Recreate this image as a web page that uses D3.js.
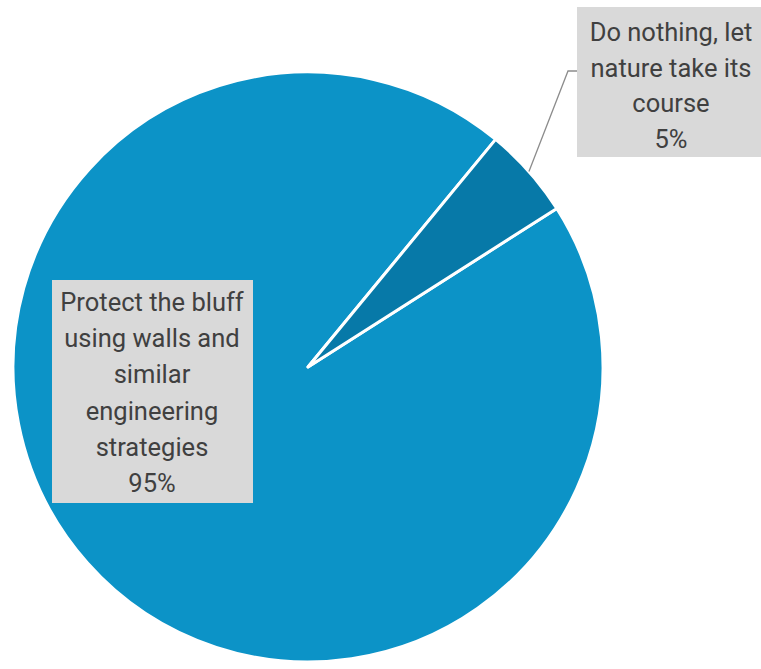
<!DOCTYPE html>
<html>
<head>
<meta charset="utf-8">
<script src="https://cdn.jsdelivr.net/npm/d3@7"></script>
<style>
  html, body { margin: 0; padding: 0; background: #ffffff; }
  svg { display: block; }
</style>
</head>
<body>
<svg id="chart" width="761" height="669"></svg>
<script>
// Survey responses: preferred approach to the bluff
const categories = [
  "Protect the bluff using walls and similar engineering strategies",
  "Do nothing, let nature take its course"
];
const values = [95, 5];
const percentLabels = ["95%", "5%"];
// Wrapped label lines for each slice
const labelLines = [
  ["Protect the bluff", "using walls and", "similar", "engineering", "strategies"],
  ["Do nothing, let", "nature take its", "course"]
];
const colors = ["#0C93C7", "#0779A8"];

const svg = d3.select("#chart");
const cx = 308, cy = 367, radius = 295;
const deg = Math.PI / 180;
const start = 57.5 * deg;

const pie = d3.pie().sort(null).startAngle(start).endAngle(start + 2 * Math.PI);
const arcs = pie(values);

const arc = d3.arc().innerRadius(0).outerRadius(radius);

const g = svg.append("g").attr("transform", `translate(${cx},${cy})`);

g.selectAll("path.slice")
  .data(arcs)
  .join("path")
  .attr("class", "slice")
  .attr("d", arc)
  .attr("fill", (d, i) => colors[i])
  .attr("stroke", "#ffffff")
  .attr("stroke-width", 3)
  .attr("stroke-linejoin", "round");

// Label boxes (positions in page coordinates)
const boxes = [
  { x: 52, y: 280, w: 201, h: 223, tx: 152, ty0: 302, dy: 36.2 },
  { x: 577, y: 7, w: 184, h: 150, tx: 671, ty0: 32, dy: 35.5 }
];

const font = "Roboto, 'Noto Sans', sans-serif";

// Leader line from the small slice to its label
{
  const d = arcs[1];
  const mid = (d.startAngle + d.endAngle) / 2;
  const px = cx + Math.sin(mid) * radius;
  const py = cy - Math.cos(mid) * radius;
  const b = boxes[1];
  const ly = 71;
  svg.append("path")
    .attr("d", `M${px},${py}L${b.x - 9},${ly}L${b.x},${ly}`)
    .attr("fill", "none")
    .attr("stroke", "#8c8c8c")
    .attr("stroke-width", 1.3);
}

boxes.forEach((b, i) => {
  svg.append("rect")
    .attr("x", b.x).attr("y", b.y)
    .attr("width", b.w).attr("height", b.h)
    .attr("fill", "#D9D9D9");
  const lines = labelLines[i].concat([percentLabels[i]]);
  const t = svg.append("text")
    .attr("text-anchor", "middle")
    .attr("font-family", font)
    .attr("font-size", 25.5)
    .attr("fill", "#404040");
  lines.forEach((s, k) => {
    t.append("tspan")
      .attr("x", b.tx)
      .attr("y", b.ty0 + k * b.dy)
      .attr("dominant-baseline", "central")
      .text(s);
  });
});
</script>
</body>
</html>
